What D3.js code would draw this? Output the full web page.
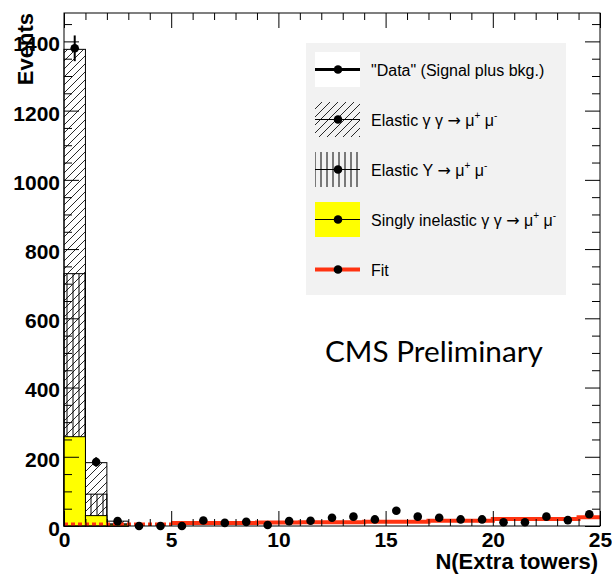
<!DOCTYPE html>
<html>
<head>
<meta charset="utf-8">
<script src="https://cdn.jsdelivr.net/npm/d3@7"></script>
<style>
  body { margin: 0; background: #fff; }
</style>
</head>
<body>
<div id="chart"></div>
<script>
// Bin lower edges, N(Extra towers)
const binLow = [0, 1, 2, 3, 4, 5, 6, 7, 8, 9, 10, 11, 12, 13, 14, 15, 16, 17, 18, 19, 20, 21, 22, 23, 24];
// "Data" (signal plus bkg.)
const dataCounts = [1380, 185, 14, 0, 0, 0, 16, 9, 12, 3, 14, 15, 24, 27, 19, 44, 27, 24, 19, 19, 11, 11, 27, 17, 34];
// stacked templates (bottom to top)
const inelastic = [258, 30, 5, 0, 0, 0, 0, 0, 0, 0, 0, 0, 0, 0, 0, 0, 0, 0, 0, 0, 0, 0, 0, 0, 0];
const upsilon = [471, 62, 1, 0, 0, 0, 0, 0, 0, 0, 0, 0, 0, 0, 0, 0, 0, 0, 0, 0, 0, 0, 0, 0, 0];
const elasticGG = [648, 91, 8, 0, 0, 0, 0, 0, 0, 0, 0, 0, 0, 0, 0, 0, 0, 0, 0, 0, 0, 0, 0, 0, 0];
// fit (drawn as a step line)
const fitValues = [5, 5, 5, 5, 5, 9, 9, 9, 9, 10, 10, 11, 11, 11, 12, 12, 12, 15, 15, 15, 20, 20, 20, 20, 25];

const yTicks = [0, 200, 400, 600, 800, 1000, 1200, 1400];
const xTicks = [0, 5, 10, 15, 20, 25];

const width = 612, height = 578;
const margin = { top: 13, right: 12, bottom: 52, left: 64 };
const plotW = width - margin.left - margin.right;
const plotH = height - margin.top - margin.bottom;

const svg = d3.select("#chart").append("svg")
    .attr("width", width)
    .attr("height", height);

const defs = svg.append("defs");
defs.append("pattern")
    .attr("id", "diag")
    .attr("patternUnits", "userSpaceOnUse")
    .attr("width", 8).attr("height", 8)
    .append("path")
    .attr("d", "M-1,1 L1,-1 M0,8 L8,0 M7,9 L9,7")
    .attr("stroke", "#111")
    .attr("stroke-width", 0.9);
defs.append("pattern")
    .attr("id", "vert")
    .attr("patternUnits", "userSpaceOnUse")
    .attr("width", 6).attr("height", 10)
    .append("line")
    .attr("x1", 3).attr("x2", 3).attr("y1", 0).attr("y2", 10)
    .attr("stroke", "#000")
    .attr("stroke-width", 1);

const g = svg.append("g")
    .attr("transform", `translate(${margin.left},${margin.top})`);

const x = d3.scaleLinear().domain([0, 25]).range([0, plotW]);
const y = d3.scaleLinear().domain([0, 1482]).range([plotH, 0]);

// stacked histogram: full stack with diagonal hatch, then lower parts on top
const totalStack = binLow.map((b, i) => inelastic[i] + upsilon[i] + elasticGG[i]);
const midStack = binLow.map((b, i) => inelastic[i] + upsilon[i]);

function drawBars(values, fill) {
    g.append("g").selectAll("rect")
        .data(binLow.map((b, i) => ({ b, v: values[i] })).filter(d => d.v > 0))
        .enter().append("rect")
        .attr("x", d => x(d.b))
        .attr("y", d => y(d.v))
        .attr("width", x(1) - x(0))
        .attr("height", d => plotH - y(d.v))
        .attr("fill", fill)
        .attr("stroke", "#000")
        .attr("stroke-width", 1);
}
drawBars(totalStack, "url(#diag)");
drawBars(midStack, "url(#vert)");
drawBars(inelastic, "#ffff00");

// fit line
const fitPts = binLow.map((b, i) => [b, fitValues[i]]);
fitPts.push([25, fitValues[fitValues.length - 1]]);
const stepLine = d3.line()
    .x(d => x(d[0]))
    .y(d => y(d[1]))
    .curve(d3.curveStepAfter);
g.append("path")
    .attr("d", stepLine(fitPts.filter(d => d[0] <= 5).map((d, i, a) => i === a.length - 1 ? [5, fitValues[4]] : d)))
    .attr("fill", "none")
    .attr("stroke", "#ff3311")
    .attr("stroke-width", 3.5)
    .attr("stroke-dasharray", "4,3");
g.append("path")
    .attr("d", stepLine(fitPts.filter(d => d[0] >= 5)))
    .attr("fill", "none")
    .attr("stroke", "#ff3311")
    .attr("stroke-width", 4);

// axes (ticks drawn inward on all four sides)
const yMinor = d3.range(0, 1482, 50).filter(v => v % 200 !== 0);
const xMinor = d3.range(0, 26, 1).filter(v => v % 5 !== 0);

function styleAxis(sel) {
    sel.select(".domain").remove();
    sel.selectAll("line").attr("stroke", "#000").attr("stroke-width", 1);
}

g.append("g")
    .call(d3.axisLeft(y).tickValues(yTicks).tickFormat(d3.format("d"))
        .tickSizeInner(-15).tickSizeOuter(0).tickPadding(4))
    .call(styleAxis)
    .selectAll("text")
    .attr("font-family", "Liberation Sans, Arial, sans-serif")
    .attr("font-weight", "bold")
    .attr("font-size", 21)
    .attr("fill", "#000")
    .attr("dy", "0.45em");
g.append("g")
    .call(d3.axisLeft(y).tickValues(yMinor).tickSizeInner(-8).tickSizeOuter(0).tickFormat(""))
    .call(styleAxis);
g.append("g")
    .attr("transform", `translate(${plotW},0)`)
    .call(d3.axisRight(y).tickValues(yTicks).tickSizeInner(-15).tickSizeOuter(0).tickFormat(""))
    .call(styleAxis);
g.append("g")
    .attr("transform", `translate(${plotW},0)`)
    .call(d3.axisRight(y).tickValues(yMinor).tickSizeInner(-8).tickSizeOuter(0).tickFormat(""))
    .call(styleAxis);

g.append("g")
    .attr("transform", `translate(0,${plotH})`)
    .call(d3.axisBottom(x).tickValues(xTicks).tickFormat(d3.format("d"))
        .tickSizeInner(-15).tickSizeOuter(0).tickPadding(6))
    .call(styleAxis)
    .selectAll("text")
    .attr("font-family", "Liberation Sans, Arial, sans-serif")
    .attr("font-weight", "bold")
    .attr("font-size", 21)
    .attr("fill", "#000");
g.append("g")
    .attr("transform", `translate(0,${plotH})`)
    .call(d3.axisBottom(x).tickValues(xMinor).tickSizeInner(-7).tickSizeOuter(0).tickFormat(""))
    .call(styleAxis);
g.append("g")
    .call(d3.axisTop(x).tickValues(xTicks).tickSizeInner(-15).tickSizeOuter(0).tickFormat(""))
    .call(styleAxis);
g.append("g")
    .call(d3.axisTop(x).tickValues(xMinor).tickSizeInner(-7).tickSizeOuter(0).tickFormat(""))
    .call(styleAxis);

// frame
g.append("rect")
    .attr("width", plotW).attr("height", plotH)
    .attr("fill", "none").attr("stroke", "#000").attr("stroke-width", 1);

// data points with sqrt(N) error bars
const pts = g.append("g");
binLow.forEach((b, i) => {
    const n = dataCounts[i];
    const err = Math.sqrt(n);
    pts.append("line")
        .attr("x1", x(b + 0.5)).attr("x2", x(b + 0.5))
        .attr("y1", y(n - err)).attr("y2", y(n + err))
        .attr("stroke", "#000").attr("stroke-width", 2);
    pts.append("circle")
        .attr("cx", x(b + 0.5)).attr("cy", y(n))
        .attr("r", 4.3).attr("fill", "#000");
});

// axis titles
svg.append("text")
    .attr("transform", `translate(33,13) rotate(-90)`)
    .attr("text-anchor", "end")
    .attr("font-family", "Liberation Sans, Arial, sans-serif")
    .attr("font-weight", "bold")
    .attr("font-size", 22)
    .text("Events");
svg.append("text")
    .attr("x", 598).attr("y", 569)
    .attr("text-anchor", "end")
    .attr("font-family", "Liberation Sans, Arial, sans-serif")
    .attr("font-weight", "bold")
    .attr("font-size", 22)
    .text("N(Extra towers)");

// legend
const legend = svg.append("g");
legend.append("rect")
    .attr("x", 306).attr("y", 43).attr("width", 260).attr("height", 252)
    .attr("fill", "#f2f2f2");

const legendRows = [
    { parts: ["\"Data\" (Signal plus bkg.)"], box: "#ffffff", line: "#000", lw: 3 },
    { parts: ["Elastic \u03b3 \u03b3 ", "\u2192", " \u03bc", "^+", " \u03bc", "^-"], box: "url(#diag)", line: "#000", lw: 1 },
    { parts: ["Elastic \u03a5 ", "\u2192", " \u03bc", "^+", " \u03bc", "^-"], box: "url(#vert)", line: "#000", lw: 1 },
    { parts: ["Singly inelastic \u03b3 \u03b3 ", "\u2192", " \u03bc", "^+", " \u03bc", "^-"], box: "#ffff00", line: "#000", lw: 1 },
    { parts: ["Fit"], box: null, line: "#ff3311", lw: 4 }
];

legendRows.forEach((row, i) => {
    const yc = 69.5 + i * 50;
    if (row.box) {
        legend.append("rect")
            .attr("x", 315).attr("y", yc - 17.5)
            .attr("width", 45).attr("height", 35)
            .attr("fill", row.box);
    }
    legend.append("line")
        .attr("x1", 315).attr("x2", 360)
        .attr("y1", yc).attr("y2", yc)
        .attr("stroke", row.line).attr("stroke-width", row.lw);
    legend.append("circle")
        .attr("cx", 338).attr("cy", yc).attr("r", 4.3).attr("fill", "#000");
    const t = legend.append("text")
        .attr("x", 371).attr("y", yc + 6)
        .attr("font-family", "Liberation Sans, Arial, sans-serif")
        .attr("font-size", 16)
        .attr("fill", "#000");
    let raised = false;
    row.parts.forEach(p => {
        if (p.startsWith("^")) {
            t.append("tspan").attr("font-size", 10).attr("dy", -7).text(p.slice(1));
            raised = true;
        } else {
            const s = t.append("tspan").text(p);
            if (p === "\u2192") s.attr("font-family", "DejaVu Sans").attr("font-size", 16);
            if (raised) { s.attr("dy", 7); raised = false; }
        }
    });
});

// CMS Preliminary label
const cms = svg.append("text")
    .attr("x", 325).attr("y", 362)
    .attr("font-family", "Lato, 'Open Sans', sans-serif")
    .attr("font-size", 26)
    .attr("fill", "#000")
    .text("CMS Preliminary");
const cmsW = cms.node().getComputedTextLength();
cms.attr("font-size", 26 * 218 / cmsW);
</script>
</body>
</html>
